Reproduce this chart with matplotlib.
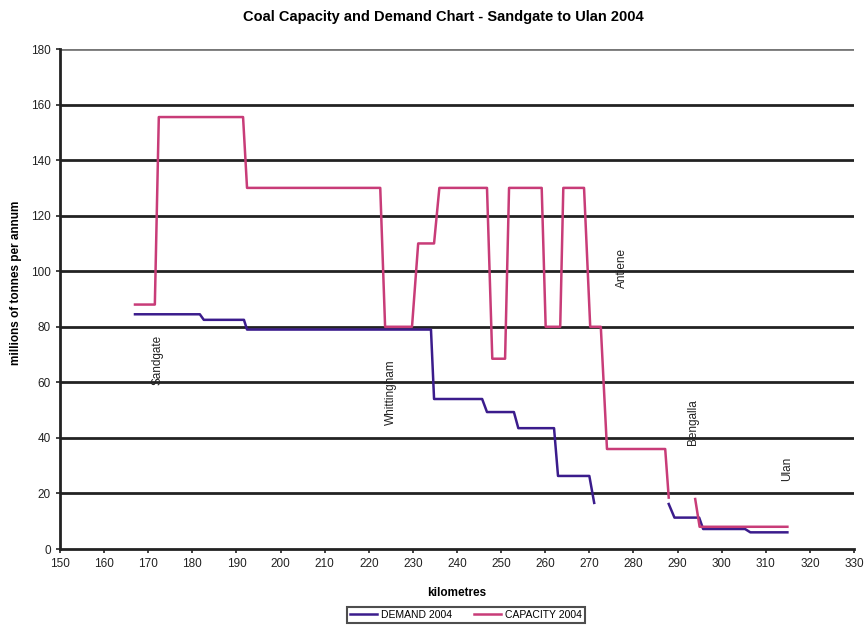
import numpy as np
import matplotlib
matplotlib.use("Agg")
import matplotlib.pyplot as plt

plt.rcParams['font.family'] = ['Liberation Sans', 'DejaVu Sans']

# kilometre chainage and tonnage (Mtpa); NaN marks a break in the line
cap_km = [167, 171.5, 172.4, 191.5, 192.4, 222.6, 223.7, 229.8, 231.2, 234.8, 236.0,
          246.8, 248.0, 250.9, 251.8, 259.2, 260.1, 263.4, 264.1, 268.8, 270.2,
          272.6, 274.0, 287.2, 288.0, 291.0, 294.0, 295.0, 314.9]
cap_val = [88, 88, 155.5, 155.5, 130, 130, 80, 80, 110, 110, 130,
           130, 68.5, 68.5, 130, 130, 80, 80, 130, 130, 80,
           80, 36, 36, 18.5, np.nan, 18, 8, 8]

dem_km = [167, 181.7, 182.6, 191.7, 192.4, 234.1, 234.8, 245.7, 246.8, 252.9, 253.9,
          262.0, 262.9, 270.0, 271.1, 280.0, 288.0, 289.3, 294.9, 295.8, 305.3, 306.5, 314.9]
dem_val = [84.5, 84.5, 82.5, 82.5, 79, 79, 54, 54, 49.3, 49.3, 43.5,
           43.5, 26.3, 26.3, 16.6, np.nan, 16.2, 11.3, 11.3, 7.2, 7.2, 6, 6]

places = ["Sandgate", "Whittingham", "Antiene", "Bengalla", "Ulan"]
place_km = [172.2, 225.0, 277.3, 293.6, 314.8]
place_y = [68, 56.5, 101, 45.7, 29]

fig = plt.figure(figsize=(8.67, 6.26), dpi=100)
ax = fig.add_axes([60 / 867, 77 / 626, 794 / 867, 500 / 626])

# horizontal grid
for y in range(20, 181, 20):
    ax.axhline(y, color='#222222' if y < 180 else '#777777', lw=2.0, zorder=1)

ax.plot(dem_km, dem_val, color='#3B1C8C', lw=1.8, label='DEMAND 2004', zorder=3)
ax.plot(cap_km, cap_val, color='#C83C78', lw=1.8, label='CAPACITY 2004', zorder=3)

for name, kx, ky in zip(places, place_km, place_y):
    ax.text(kx, ky, name, rotation=90, ha='center', va='center', fontsize=8.5, color='#222222')

ax.set_xlim(150, 330)
ax.set_ylim(0, 180)
ax.set_xticks(range(150, 331, 10))
ax.set_yticks(range(0, 181, 20))
ax.tick_params(labelsize=8.5, direction='out', length=3, width=1.2, colors='#222222')
for s in ['top', 'right']:
    ax.spines[s].set_visible(False)
for s in ['left', 'bottom']:
    ax.spines[s].set_linewidth(2)
    ax.spines[s].set_color('#222222')

ax.set_xlabel('kilometres', fontsize=8.5, fontweight='bold', labelpad=12)
ax.set_ylabel('millions of tonnes per annum', fontsize=8.5, fontweight='bold')
ax.yaxis.set_label_coords(-0.048, 0.532)
fig.text(0.511, 0.973, 'Coal Capacity and Demand Chart - Sandgate to Ulan 2004',
         ha='center', va='center', fontsize=10.5, fontweight='bold')

leg = fig.legend(loc='center', bbox_to_anchor=(0.5375, 0.0176), ncol=2, fontsize=7.5,
                 frameon=True, fancybox=False, edgecolor='#222222', handlelength=2.6,
                 borderpad=0.3, columnspacing=2.1, handletextpad=0.4)
leg.get_frame().set_linewidth(1.5)

fig.savefig('out.png', dpi=100)
